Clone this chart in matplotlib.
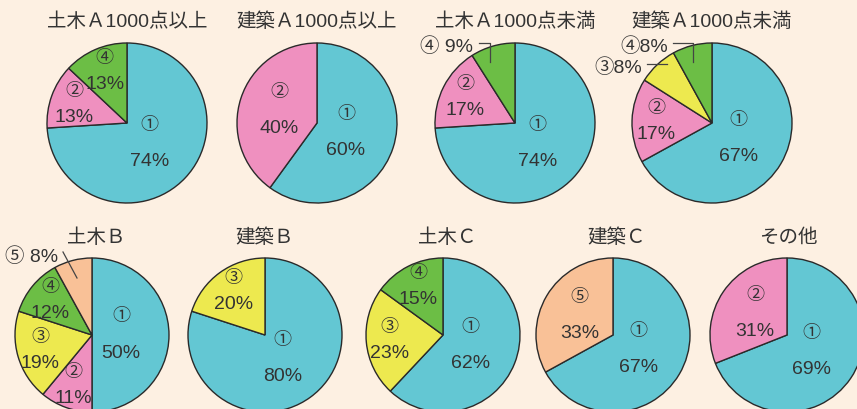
import numpy as np
import matplotlib.pyplot as plt

plt.rcParams['font.family'] = ['Liberation Sans', 'Noto Sans CJK JP', 'DejaVu Sans']

# data
titles = ['土木Ａ1000点以上', '建築Ａ1000点以上', '土木Ａ1000点未満', '建築Ａ1000点未満',
          '土木Ｂ', '建築Ｂ', '土木Ｃ', '建築Ｃ', 'その他']
marks = ['①', '②', '③', '④', '⑤']
colors = ['#63c7d3', '#ef90bf', '#ede94f', '#6cbe45', '#f9c197']
shares = [
    [74, 13, 0, 13, 0],
    [60, 40, 0, 0, 0],
    [74, 17, 0, 9, 0],
    [67, 17, 8, 8, 0],
    [50, 11, 19, 12, 8],
    [80, 0, 20, 0, 0],
    [62, 0, 23, 15, 0],
    [67, 0, 0, 0, 33],
    [69, 31, 0, 0, 0],
]

# layout (pixels, y measured from the top)
W, H = 857, 409
centers = [(127, 123), (317, 123), (515, 123), (712, 123),
           (92, 335), (265, 335), (443, 335), (613, 335), (787, 335)]
radii = [80, 80, 80, 80, 77, 77, 77, 77, 77]
title_y = [22, 22, 22, 22, 238, 238, 238, 238, 238]
title_dx = [0, 0, 0, 0, 4, 0, 4, 4, 1]
# small slices labelled outside: (chart, slice, text right x, text y, leader points)
outside = [
    (2, 3, '④ 9%', 473, 47, [(479, 43), (490, 43), (490, 62)]),
    (3, 3, '④8%', 668, 47, [(673, 43), (693, 43), (693, 62)]),
    (3, 2, '③8%', 642, 68, [(647, 64), (667, 64)]),
    (4, 4, '⑤ 8%', 58, 257, [(63, 252), (77, 278)]),
]

bg = '#fdf0e2'
txt = '#333333'

fig = plt.figure(figsize=(W / 100, H / 100), dpi=100, facecolor=bg)
ax = fig.add_axes([0, 0, 1, 1])
ax.set_aspect('equal')
ax.axis('off')

skip = {(o[0], o[1]) for o in outside}

for i, vals in enumerate(shares):
    cx, cy = centers[i]
    r = radii[i]
    idx = [k for k, v in enumerate(vals) if v > 0]
    wedges, _ = ax.pie([vals[k] for k in idx], colors=[colors[k] for k in idx],
                       startangle=90, counterclock=False, center=(cx, H - cy), radius=r,
                       wedgeprops={'edgecolor': '#2a2a2a', 'linewidth': 1.0})
    ax.text(cx + title_dx[i], H - title_y[i], titles[i], ha='center', va='center',
            fontsize=14, color=txt)
    for w, k in zip(wedges, idx):
        if (i, k) in skip:
            continue
        v = vals[k]
        mid = np.radians((w.theta1 + w.theta2) / 2)
        frac = 0.38 if v >= 50 else (0.5 if v >= 25 else 0.7)
        gap = 18 if v >= 30 else 13
        lx = cx + frac * r * np.cos(mid)
        ly = H - cy + frac * r * np.sin(mid)
        ax.text(lx, ly + gap, marks[k], ha='center', va='center', fontsize=13, color=txt)
        ax.text(lx, ly - gap, f'{v}%', ha='center', va='center', fontsize=14, color=txt)

for i, k, label, tx, ty, pts in outside:
    ax.text(tx, H - ty, label, ha='right', va='center', fontsize=14, color=txt)
    xs = [p[0] for p in pts]
    ys = [H - p[1] for p in pts]
    ax.plot(xs, ys, color='#444444', lw=0.9)

ax.set_xlim(0, W)
ax.set_ylim(0, H)

fig.savefig('out.png', dpi=100, facecolor=bg)
